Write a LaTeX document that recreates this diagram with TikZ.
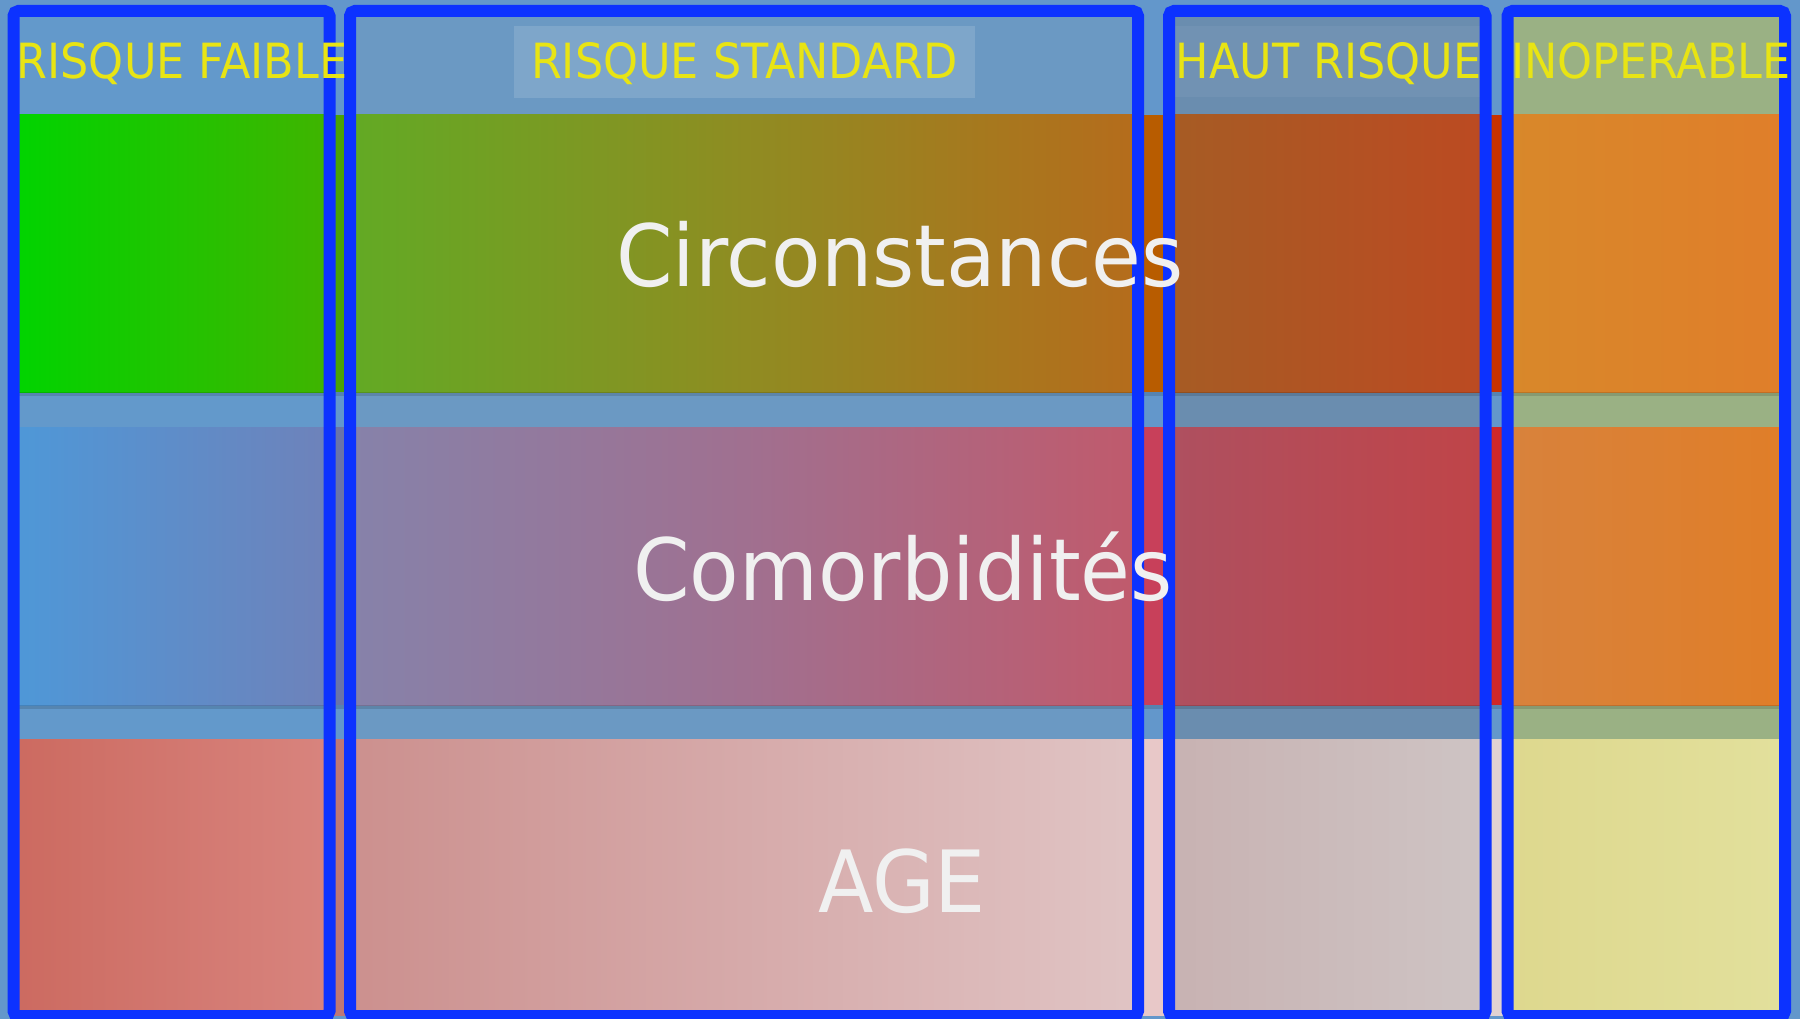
\documentclass[tikz,border=0pt]{standalone}
\usepackage{fontspec}
\setmainfont{DejaVu Sans}
\usepackage{graphicx}
% backgrounds
\definecolor{bg}{HTML}{6397CB}
\definecolor{hdA}{HTML}{6399CB}
\definecolor{hdB}{HTML}{6B99C3}
\definecolor{hdC}{HTML}{6A8DAF}
\definecolor{hdD}{HTML}{9AB184}
\definecolor{frameblue}{HTML}{0C32FF}
\definecolor{hdtext}{HTML}{E8E414}
\definecolor{bigtext}{HTML}{F0F0F0}
% band 1
\definecolor{aAl}{HTML}{00D400}\definecolor{aAr}{HTML}{40B400}
\definecolor{aBl}{HTML}{62AA24}\definecolor{aBm}{HTML}{8F8C22}\definecolor{aBr}{HTML}{B56C1C}
\definecolor{aCl}{HTML}{A65C24}\definecolor{aCr}{HTML}{BC4A22}
\definecolor{aDl}{HTML}{D8882A}\definecolor{aDr}{HTML}{E07E2A}
\definecolor{aG1}{HTML}{4AA204}\definecolor{aG2}{HTML}{B85C00}\definecolor{aG3}{HTML}{C83200}
% band 2
\definecolor{bAl}{HTML}{4E98D8}\definecolor{bAr}{HTML}{6E82BA}
\definecolor{bBl}{HTML}{8682AA}\definecolor{bBm}{HTML}{A07090}\definecolor{bBr}{HTML}{C05A6C}
\definecolor{bCl}{HTML}{AE5060}\definecolor{bCr}{HTML}{C04448}
\definecolor{bDl}{HTML}{D8823C}\definecolor{bDr}{HTML}{E07E28}
\definecolor{bG1}{HTML}{6A74A8}\definecolor{bG2}{HTML}{C8405A}\definecolor{bG3}{HTML}{D02828}
% band 3
\definecolor{cAl}{HTML}{CC6A60}\definecolor{cAr}{HTML}{D8847E}
\definecolor{cBl}{HTML}{CC908E}\definecolor{cBm}{HTML}{D6AAAA}\definecolor{cBr}{HTML}{E0C4C4}
\definecolor{cCl}{HTML}{C8B2B2}\definecolor{cCr}{HTML}{CEC4C4}
\definecolor{cDl}{HTML}{DED88E}\definecolor{cDr}{HTML}{E2E09C}
\definecolor{cG1}{HTML}{BE7876}\definecolor{cG2}{HTML}{E8C8C8}\definecolor{cG3}{HTML}{E0D2D2}
\tikzset{
  colframe/.style={draw=frameblue, line width=12pt, rounded corners=5pt},
  hdlabel/.style={anchor=base, inner sep=0pt, text=hdtext, font=\fontsize{44.5}{50}\selectfont},
  biglabel/.style={anchor=base, inner sep=0pt, text=bigtext, font=\fontsize{81}{90}\selectfont},
  bandshadow/.style={draw=black, draw opacity=0.13, line width=4pt}
}
\newcommand{\hdtxt}[1]{\scalebox{1}[1.09]{#1}}
\newcommand{\bigtxt}[1]{\scalebox{1}[1.06]{#1}}
\begin{document}
\begin{tikzpicture}[x=1pt,y=-1pt]
\useasboundingbox (0,0) rectangle (1800,1019);
\fill[bg] (0,0) rectangle (1800,1019);
% column tints (header and gap rows)
\fill[hdA] (13.5,11) rectangle (329.5,1016);
\fill[hdB] (350,11) rectangle (1138,1016);
\fill[hdC] (1169,11) rectangle (1485.5,1016);
\fill[hdD] (1507.5,11) rectangle (1785,1016);
% header label boxes
\fill[white, fill opacity=0.13] (514,26) rectangle (975,98);
\fill[white, fill opacity=0.05] (1163,26) rectangle (1491,97);
% band 1 : Circonstances
\fill[aG1] (329.5,115) rectangle (350,392);
\fill[aG2] (1138,115) rectangle (1169,392);
\fill[aG3] (1485.5,115) rectangle (1507.5,392);
\shade[left color=aAl, right color=aAr] (13.5,115) rectangle (329.5,392);
\shade[left color=aBl, right color=aBm] (350,115) rectangle (744.5,392);
\shade[left color=aBm, right color=aBr] (744,115) rectangle (1138,392);
\shade[left color=aCl, right color=aCr] (1169,115) rectangle (1485.5,392);
\shade[left color=aDl, right color=aDr] (1507.5,115) rectangle (1785,392);
\draw[bandshadow] (13.5,394) -- (1785,394);
% band 2 : Comorbidites
\fill[bG1] (329.5,427) rectangle (350,705);
\fill[bG2] (1138,427) rectangle (1169,705);
\fill[bG3] (1485.5,427) rectangle (1507.5,705);
\shade[left color=bAl, right color=bAr] (13.5,427) rectangle (329.5,705);
\shade[left color=bBl, right color=bBm] (350,427) rectangle (744.5,705);
\shade[left color=bBm, right color=bBr] (744,427) rectangle (1138,705);
\shade[left color=bCl, right color=bCr] (1169,427) rectangle (1485.5,705);
\shade[left color=bDl, right color=bDr] (1507.5,427) rectangle (1785,705);
\draw[bandshadow] (13.5,707) -- (1785,707);
% band 3 : AGE
\fill[cG1] (329.5,739) rectangle (350,1016);
\fill[cG2] (1138,739) rectangle (1169,1016);
\fill[cG3] (1485.5,739) rectangle (1507.5,1016);
\shade[left color=cAl, right color=cAr] (13.5,739) rectangle (329.5,1016);
\shade[left color=cBl, right color=cBm] (350,739) rectangle (744.5,1016);
\shade[left color=cBm, right color=cBr] (744,739) rectangle (1138,1016);
\shade[left color=cCl, right color=cCr] (1169,739) rectangle (1485.5,1016);
\shade[left color=cDl, right color=cDr] (1507.5,739) rectangle (1785,1016);
% column frames
\draw[colframe] (13.5,11) rectangle (329.5,1016);
\draw[colframe] (350,11) rectangle (1138,1016);
\draw[colframe] (1169,11) rectangle (1485.5,1016);
\draw[colframe] (1507.5,11) rectangle (1785,1016);
% header labels
\node[hdlabel] (faible) at (182,79) {\hdtxt{RISQUE FAIBLE}};
\node[hdlabel] (standard) at (744.5,79) {\hdtxt{RISQUE STANDARD}};
\node[hdlabel] (haut) at (1328.5,79) {\hdtxt{HAUT RISQUE}};
\node[hdlabel] (inop) at (1651,79) {\hdtxt{INOPERABLE}};
% big labels
\node[biglabel] (circ) at (900,287) {\bigtxt{Circonstances}};
\node[biglabel] (como) at (903,600) {\bigtxt{Comorbidités}};
\node[biglabel] (age) at (902,912) {\bigtxt{AGE}};
\end{tikzpicture}
\end{document}
